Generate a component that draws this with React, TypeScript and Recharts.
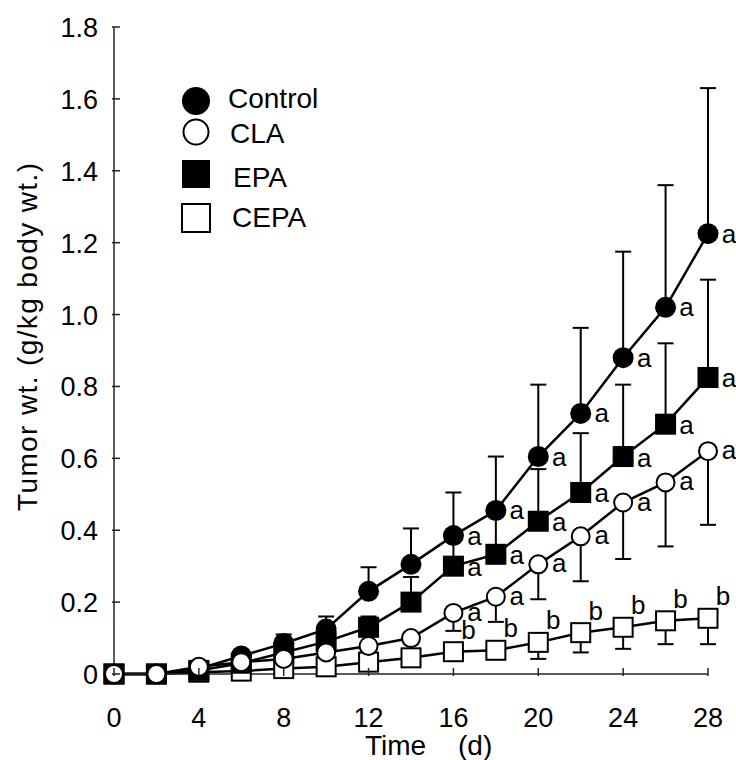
import { ComposedChart, Line, XAxis, YAxis, ErrorBar, LabelList, Legend } from "recharts"

// time points (days)
const days = [0, 2, 4, 6, 8, 10, 12, 14, 16, 18, 20, 22, 24, 26, 28]

// tumor wt. (g/kg body wt.)
const control = [0, 0, 0.015, 0.05, 0.085, 0.125, 0.23, 0.305, 0.385, 0.455, 0.605, 0.725, 0.88, 1.02, 1.225]
const cla = [0, 0, 0.02, 0.033, 0.042, 0.06, 0.078, 0.1, 0.17, 0.215, 0.305, 0.383, 0.477, 0.533, 0.62]
const epa = [0, 0, 0.01, 0.03, 0.06, 0.09, 0.13, 0.2, 0.3, 0.333, 0.425, 0.505, 0.605, 0.695, 0.825]
const cepa = [0, 0, 0.005, 0.008, 0.015, 0.02, 0.033, 0.045, 0.062, 0.066, 0.088, 0.115, 0.13, 0.148, 0.155]

// one-sided SE bars (control/EPA drawn up, CLA/CEPA drawn down)
const controlErr = [0, 0, 0.005, 0.01, 0.025, 0.035, 0.067, 0.1, 0.12, 0.15, 0.2, 0.238, 0.295, 0.34, 0.405]
const epaErr = [0, 0, 0.005, 0.01, 0.02, 0.02, 0.03, 0.07, 0.08, 0.12, 0.145, 0.165, 0.2, 0.225, 0.272]
const claErr = [0, 0, 0.005, 0.008, 0.007, 0.01, 0.013, 0.015, 0.05, 0.07, 0.097, 0.125, 0.157, 0.178, 0.205]
const cepaErr = [0, 0, 0, 0, 0, 0, 0.005, 0.005, 0.01, 0.01, 0.046, 0.055, 0.06, 0.065, 0.072]

// significance letters
const sigA = ["", "", "", "", "", "", "", "", "a", "a", "a", "a", "a", "a", "a"]
const sigB = ["", "", "", "", "", "", "", "", "b", "b", "b", "b", "b", "b", "b"]

const xTicks = [0, 4, 8, 12, 16, 20, 24, 28]
const yTicks = [0, 0.2, 0.4, 0.6, 0.8, 1.0, 1.2, 1.4, 1.6, 1.8]

const seriesNames = ["Control", "CLA", "EPA", "CEPA"]

const data = days.map((d, i) => ({
  day: d,
  control: control[i],
  cla: cla[i],
  epa: epa[i],
  cepa: cepa[i],
  controlErr: [0, controlErr[i]],
  epaErr: [0, epaErr[i]],
  claErr: [claErr[i], 0],
  cepaErr: [cepaErr[i], 0],
  sigA: sigA[i],
  sigB: sigB[i],
}))

const FONT = "'Liberation Sans', Arial, sans-serif"

function Marker({ kind, cx, cy, size }: { kind: string; cx: number; cy: number; size: number }) {
  const h = size / 2
  if (kind === "Control") return <circle cx={cx} cy={cy} r={h} fill="#000" />
  if (kind === "CLA") return <circle cx={cx} cy={cy} r={h - 1} fill="#fff" stroke="#000" strokeWidth={2} />
  if (kind === "EPA") return <rect x={cx - h} y={cy - h} width={size} height={size} fill="#000" />
  return <rect x={cx - h + 1} y={cy - h + 1} width={size - 2} height={size - 2} fill="#fff" stroke="#000" strokeWidth={2} />
}

const dotFor = (kind: string, size: number) => (p: any) => (
  <Marker key={`${kind}-${p.index}`} kind={kind} cx={p.cx} cy={p.cy} size={size} />
)

const letter = (dx: number, dy: number) => (p: any) =>
  p.value ? (
    <text x={p.x + dx} y={p.y + dy} textAnchor="middle" fontFamily={FONT} fontSize={26} fill="#000">
      {p.value}
    </text>
  ) : null

const YTick = (p: any) => {
  const v = p.payload.value
  return (
    <g>
      <line x1={p.x} x2={p.x + 8} y1={p.y} y2={p.y} stroke="#222" strokeWidth={1.5} />
      <text x={p.x - 14} y={p.y + 10} textAnchor="end" fontFamily={FONT} fontSize={27} fill="#000">
        {v === 0 ? "0" : v.toFixed(1)}
      </text>
    </g>
  )
}

const XTick = (p: any) => (
  <g>
    <line x1={p.x} x2={p.x} y1={p.y} y2={p.y - 8} stroke="#222" strokeWidth={1.5} />
    <text x={p.x} y={p.y + 51} textAnchor="middle" fontFamily={FONT} fontSize={27} fill="#000">
      {p.payload.value}
    </text>
  </g>
)

function LegendBox() {
  const rows = [
    { cy: 41, ty: 48, tx: 78, size: 28 },
    { cy: 72, ty: 83, tx: 80, size: 27 },
    { cy: 114, ty: 127, tx: 83, size: 28 },
    { cy: 158, ty: 167, tx: 82, size: 30 },
  ]
  return (
    <svg width={260} height={190}>
      {seriesNames.map((n, i) => (
        <g key={n}>
          <Marker kind={n} cx={46} cy={rows[i].cy} size={rows[i].size} />
          <text x={rows[i].tx} y={rows[i].ty} fontFamily={FONT} fontSize={28} fill="#000">
            {n}
          </text>
        </g>
      ))}
    </svg>
  )
}

export default function App() {
  return (
    <div style={{ position: "absolute", left: 0, top: 0, background: "#fff" }}>
      <ComposedChart width={736} height={760} data={data} margin={{ top: 27, right: 28, bottom: 0, left: 0 }}>
        <XAxis
          dataKey="day"
          type="number"
          domain={[0, 28]}
          ticks={xTicks}
          height={86}
          tickSize={0}
          tickLine={false}
          tick={<XTick />}
          axisLine={{ stroke: "#222", strokeWidth: 1.5 }}
          label={{
            content: () => (
              <text y={755} fontFamily={FONT} fontSize={28} fill="#000">
                <tspan x={365}>Time</tspan>
                <tspan x={458}>(d)</tspan>
              </text>
            ),
          }}
        />
        <YAxis
          type="number"
          domain={[0, 1.8]}
          ticks={yTicks}
          width={114}
          tickSize={0}
          tickLine={false}
          tick={<YTick />}
          axisLine={{ stroke: "#222", strokeWidth: 1.5 }}
          label={{
            content: () => (
              <text
                x={0}
                y={0}
                transform="translate(37 337) rotate(-90)"
                textAnchor="middle"
                fontFamily={FONT}
                fontSize={28}
                textLength={348}
                lengthAdjust="spacing"
                fill="#000"
              >
                Tumor wt. (g/kg body wt.)
              </text>
            ),
          }}
        />
        <Legend
          layout="vertical"
          align="center"
          verticalAlign="middle"
          content={() => <LegendBox />}
          wrapperStyle={{ position: "absolute", left: 150, top: 60, width: 260, height: 190 }}
        />
        <Line dataKey="cepa" stroke="#000" strokeWidth={2.5} isAnimationActive={false} dot={dotFor("CEPA", 21)} activeDot={false}>
          <ErrorBar dataKey="cepaErr" width={8} stroke="#000" strokeWidth={2} direction="y" />
          <LabelList dataKey="sigB" content={letter(15, -13)} />
        </Line>
        <Line dataKey="control" stroke="#000" strokeWidth={2.5} isAnimationActive={false} dot={dotFor("Control", 21)} activeDot={false}>
          <ErrorBar dataKey="controlErr" width={8} stroke="#000" strokeWidth={2} direction="y" />
          <LabelList dataKey="sigA" content={letter(21, 9)} />
        </Line>
        <Line dataKey="epa" stroke="#000" strokeWidth={2.5} isAnimationActive={false} dot={dotFor("EPA", 21)} activeDot={false}>
          <ErrorBar dataKey="epaErr" width={8} stroke="#000" strokeWidth={2} direction="y" />
          <LabelList dataKey="sigA" content={letter(21, 10)} />
        </Line>
        <Line dataKey="cla" stroke="#000" strokeWidth={2.5} isAnimationActive={false} dot={dotFor("CLA", 20)} activeDot={false}>
          <ErrorBar dataKey="claErr" width={8} stroke="#000" strokeWidth={2} direction="y" />
          <LabelList dataKey="sigA" content={letter(21, 8)} />
        </Line>
      </ComposedChart>
    </div>
  )
}
